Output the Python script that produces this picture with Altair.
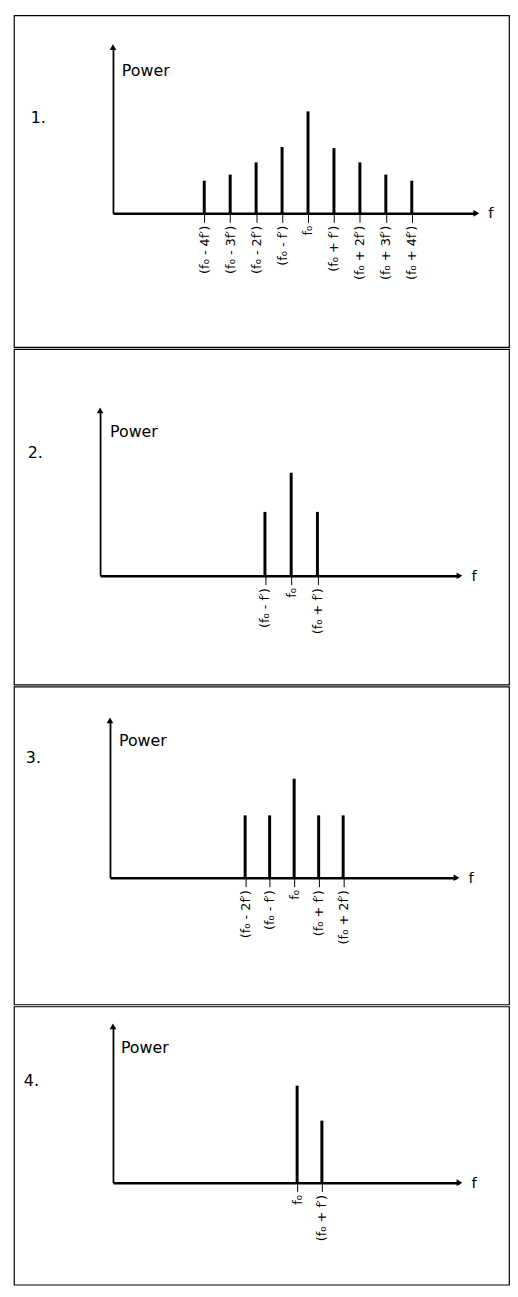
import altair as alt
import pandas as pd

# ---------------- data ----------------
PANEL_NAMES = ["1.", "2.", "3.", "4."]
Y_TITLE = "Power"
X_TITLE = "f"

P1_K = [-4, -3, -2, -1, 0, 1, 2, 3, 4]
P1_POWER = [0.32, 0.38, 0.50, 0.65, 1.00, 0.64, 0.50, 0.38, 0.32]
P1_LABELS = ["(f₀ - 4f′)", "(f₀ - 3f′)", "(f₀ - 2f′)", "(f₀ - f′)", "f₀",
             "(f₀ + f′)", "(f₀ + 2f′)", "(f₀ + 3f′)", "(f₀ + 4f′)"]

P2_K = [-1, 0, 1]
P2_POWER = [0.62, 1.00, 0.62]
P2_LABELS = ["(f₀ - f′)", "f₀", "(f₀ + f′)"]

P3_K = [-2, -1, 0, 1, 2]
P3_POWER = [0.63, 0.63, 1.00, 0.63, 0.63]
P3_LABELS = ["(f₀ - 2f′)", "(f₀ - f′)", "f₀", "(f₀ + f′)", "(f₀ + 2f′)"]

P4_K = [0, 1]
P4_POWER = [1.00, 0.64]
P4_LABELS = ["f₀", "(f₀ + f′)"]

PANELS = [
    (P1_K, P1_POWER, P1_LABELS),
    (P2_K, P2_POWER, P2_LABELS),
    (P3_K, P3_POWER, P3_LABELS),
    (P4_K, P4_POWER, P4_LABELS),
]

# ---------------- layout (pixels inside each panel) ----------------
W = 500
LAYOUT = [
    dict(h=335, base=200, unit=97, top=32, x0=100, f0=297, step=26.2, xend=467, power=(109, 56), num=(17, 104)),
    dict(h=339, base=229, unit=125, top=62, x0=87, f0=280, step=26.5, xend=450, power=(97, 84), num=(14, 105)),
    dict(h=321, base=193, unit=93, top=34, x0=97, f0=283, step=24.75, xend=447, power=(106, 55), num=(12, 72)),
    dict(h=281, base=178, unit=80, top=20, x0=100, f0=286, step=25.0, xend=450, power=(108, 42), num=(10, 75)),
]
FONT = "DejaVu Sans"


def make_panel(i):
    K, POW, LAB = PANELS[i]
    L = LAYOUT[i]
    kx0 = (L["x0"] - L["f0"]) / L["step"]
    kx1 = (L["xend"] - L["f0"]) / L["step"]
    ytop = (L["base"] - L["top"]) / (L["base"] - L["unit"])

    xs = alt.Scale(domain=[kx0, kx1], range=[L["x0"], L["xend"]], nice=False, zero=False)
    ys = alt.Scale(domain=[0, ytop], range=[L["base"], L["top"]], nice=False, zero=False)

    expr = " : ".join(f"datum.value == {k} ? '{lab}'" for k, lab in zip(K, LAB)) + " : ''"

    x_axis = alt.Axis(
        values=K, labelExpr=expr, labelAngle=270, labelAlign="right", labelBaseline="middle",
        labelPadding=3, labelOverlap=False, labelBound=False, labelFlush=False,
        labelFont=FONT, labelFontSize=13, labelColor="black",
        ticks=True, tickSize=9, tickWidth=1, tickColor="black",
        domain=True, domainWidth=2.5, domainColor="black", grid=False, title=None,
        offset=L["base"] - L["h"],
    )
    y_axis = alt.Axis(
        orient="left", offset=-L["x0"], domain=True, domainWidth=1.8, domainColor="black",
        ticks=False, labels=False, grid=False, title=None,
    )

    df = pd.DataFrame({"k": K, "p": POW})
    bars = alt.Chart(df).mark_rule(color="black", strokeWidth=3, strokeCap="butt").encode(
        x=alt.X("k:Q", scale=xs, axis=x_axis),
        y=alt.Y("p:Q", scale=ys, axis=y_axis),
        y2=alt.datum(0),
    )

    arrows_df = pd.DataFrame({"k": [kx1, kx0], "p": [0, ytop], "shape": ["triangle-right", "triangle-up"]})
    arrows = alt.Chart(arrows_df).mark_point(filled=True, color="black", size=45, opacity=1).encode(
        x=alt.X("k:Q", scale=xs),
        y=alt.Y("p:Q", scale=ys),
        shape=alt.Shape("shape:N", scale=None),
    )

    f_df = pd.DataFrame({"k": [kx1], "p": [0], "t": [X_TITLE]})
    f_text = alt.Chart(f_df).mark_text(align="left", baseline="middle", dx=12, font=FONT,
                                       fontSize=15, color="black").encode(
        x=alt.X("k:Q", scale=xs), y=alt.Y("p:Q", scale=ys), text="t:N")

    power_text = alt.Chart(pd.DataFrame({"t": [Y_TITLE]})).mark_text(
        align="left", baseline="middle", font=FONT, fontSize=16, color="black").encode(
        x=alt.value(L["power"][0]), y=alt.value(L["power"][1]), text="t:N")

    num_text = alt.Chart(pd.DataFrame({"t": [PANEL_NAMES[i]]})).mark_text(
        align="left", baseline="middle", font=FONT, fontSize=16, color="black").encode(
        x=alt.value(L["num"][0]), y=alt.value(L["num"][1]), text="t:N")

    return alt.layer(bars, arrows, f_text, power_text, num_text).properties(width=W, height=L["h"])


chart = alt.vconcat(*[make_panel(i) for i in range(4)], spacing=0).properties(
    padding={"left": 5, "top": 0, "right": 0, "bottom": 0},
    background="white",
).configure_view(stroke="black", strokeWidth=1.2)

chart.save("out.html", embed_options={"renderer": "svg", "actions": False})
